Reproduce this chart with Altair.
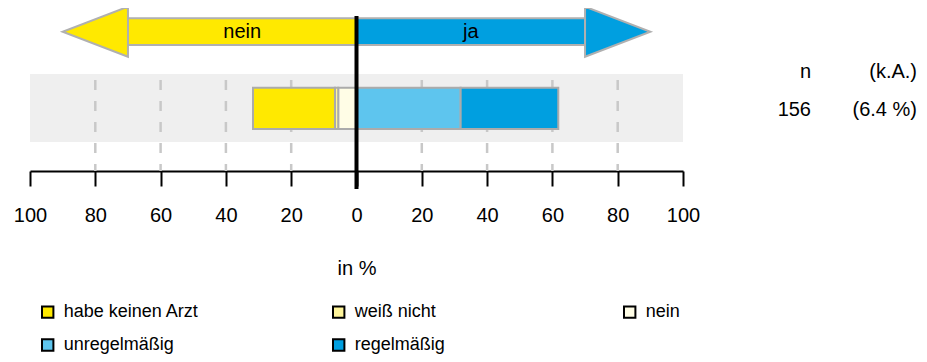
import altair as alt
import pandas as pd

# ---- data ----
categories = ["habe keinen Arzt", "weiß nicht", "nein", "unregelmäßig", "regelmäßig"]
values = [25.1, 1.0, 5.6, 31.9, 29.9]
sides = ["nein", "nein", "nein", "ja", "ja"]
colors = ["#FFE900", "#FFF59B", "#FFFDE6", "#5EC5EE", "#009FE0"]

tick_values = [-100, -80, -60, -40, -20, 0, 20, 40, 60, 80, 100]
grid_values = [-80, -60, -40, -20, 20, 40, 60, 80]

arrow_labels = ["nein", "ja"]
arrow_colors = ["#FFE900", "#009FE0"]

n_total = 156
ka_pct = "6.4 %"

# ---- derived tables ----
color_of = dict(zip(categories, colors))
rows = []
left_pos, right_pos = 0.0, 0.0
for cat, val, side in reversed(list(zip(categories, values, sides))):
    if side == "nein":
        rows.append({"cat": cat, "x": -(left_pos + val), "x2": -left_pos, "color": color_of[cat]})
        left_pos += val
for cat, val, side in zip(categories, values, sides):
    if side == "ja":
        rows.append({"cat": cat, "x": right_pos, "x2": right_pos + val, "color": color_of[cat]})
        right_pos += val
bars_df = pd.DataFrame(rows)

shaft_len = 70
head_tip = 90
arrows_df = pd.DataFrame({
    "label": arrow_labels,
    "color": arrow_colors,
    "x": [0, 0],
    "x2": [-shaft_len, shaft_len],
    "head": [-(shaft_len + head_tip) / 2, (shaft_len + head_tip) / 2],
    "mid": [-shaft_len / 2, shaft_len / 2],
})

FONT = "Liberation Sans"
xscale = alt.Scale(domain=[-100, 100], nice=False, zero=False)
xaxis = alt.Axis(
    values=tick_values, labelExpr="abs(datum.value)", grid=False,
    domainColor="black", domainWidth=2, tickColor="black", tickWidth=2,
    tickSize=15, labelFontSize=20, labelFont=FONT, labelColor="black",
    labelPadding=19, labelFlush=False, labelOverlap=False,
    title="in %", titleFont=FONT, titleFontSize=20, titleFontWeight="normal",
    titleColor="black", titleBaseline="alphabetic", titleY=103,
)


def X(field):
    return alt.X(field, scale=xscale, axis=xaxis)


band = alt.Chart(pd.DataFrame({"a": [-100], "b": [100]})).mark_rect(
    fill="#EFEFEF"
).encode(
    x=X("a:Q"), x2="b:Q",
    y=alt.value(66), y2=alt.value(134),
)

grid = alt.Chart(pd.DataFrame({"v": grid_values})).mark_rule(
    color="#C8C8C8", strokeWidth=2.5, strokeDash=[10, 11]
).encode(
    x=X("v:Q"),
    y=alt.value(72), y2=alt.value(163),
)

bars = alt.Chart(bars_df).mark_rect(stroke="#ABABAB", strokeWidth=2).encode(
    x=X("x:Q"), x2="x2:Q",
    y=alt.value(79.7), y2=alt.value(121),
    fill=alt.Fill("color:N", scale=None),
)

legend_props = dict(
    title=None, orient="none", legendX=8.7, legendY=295,
    direction="horizontal",
    columns=3, gridAlign="all", columnPadding=129, rowPadding=13,
    symbolType="square", symbolSize=130,
    symbolStrokeWidth=2, symbolOpacity=1,
    labelFont=FONT, labelFontSize=18, labelColor="black", labelOffset=7,
    labelLimit=300, padding=0,
)

# invisible layer (placed above the drawing area) that only carries the legend
legend_layer = alt.Chart(bars_df).mark_square(
    size=1, filled=True, strokeWidth=2
).encode(
    x=X("x:Q"),
    y=alt.value(-60),
    fill=alt.Fill("cat:N", scale=alt.Scale(domain=categories, range=colors),
                  legend=alt.Legend(**legend_props)),
    stroke=alt.Stroke("cat:N", scale=alt.Scale(domain=categories,
                                               range=["black"] * len(categories)),
                      legend=alt.Legend(**legend_props)),
)

shafts = alt.Chart(arrows_df).mark_rect(stroke="#B0B0B0", strokeWidth=2).encode(
    x=X("x:Q"), x2="x2:Q",
    y=alt.value(10.3), y2=alt.value(37),
    fill=alt.Fill("color:N", scale=None),
)

heads_left = alt.Chart(arrows_df[arrows_df["label"] == "nein"]).mark_point(
    shape="M 1 -0.766 L -1 0 L 1 0.766 Z", filled=True, size=4264,
    stroke="#B0B0B0", strokeWidth=2, opacity=1,
).encode(
    x=X("head:Q"),
    y=alt.value(23.7),
    fill=alt.Fill("color:N", scale=None),
)
heads_right = alt.Chart(arrows_df[arrows_df["label"] == "ja"]).mark_point(
    shape="M -1 -0.766 L 1 0 L -1 0.766 Z", filled=True, size=4264,
    stroke="#B0B0B0", strokeWidth=2, opacity=1,
).encode(
    x=X("head:Q"),
    y=alt.value(23.7),
    fill=alt.Fill("color:N", scale=None),
)

arrow_text = alt.Chart(arrows_df).mark_text(
    font=FONT, fontSize=20, color="black", baseline="middle", align="center"
).encode(
    x=X("mid:Q"),
    y=alt.value(24),
    text="label:N",
)

center_line = alt.Chart(pd.DataFrame({"z": [0]})).mark_rule(
    color="black", strokeWidth=4
).encode(
    x=X("z:Q"),
    y=alt.value(8), y2=alt.value(181),
)

side_df = pd.DataFrame({
    "t1": ["n", str(n_total)],
    "t2": ["(k.A.)", f"({ka_pct})"],
    "row": [0, 1],
})


def side_text(row, field, xpos, ypos):
    return alt.Chart(side_df[side_df.row == row]).mark_text(
        font=FONT, fontSize=20, color="black", baseline="middle", align="right"
    ).encode(x=alt.value(xpos), y=alt.value(ypos), text=f"{field}:N")


hdr_n = side_text(0, "t1", 781, 64)
hdr_k = side_text(0, "t2", 887, 64)
val_n = side_text(1, "t1", 781, 102)
val_k = side_text(1, "t2", 887, 102)

chart = alt.layer(
    band, grid, bars, legend_layer, shafts, heads_left, heads_right, arrow_text,
    center_line, hdr_n, hdr_k, val_n, val_k,
).properties(
    width=653, height=163,
    autosize=alt.AutoSizeParams(type="none"),
    padding={"left": 22, "top": 0, "right": 236, "bottom": 200},
    background="white",
).configure_view(stroke=None)

chart.save("out.html", embed_options={"renderer": "svg", "actions": False})
